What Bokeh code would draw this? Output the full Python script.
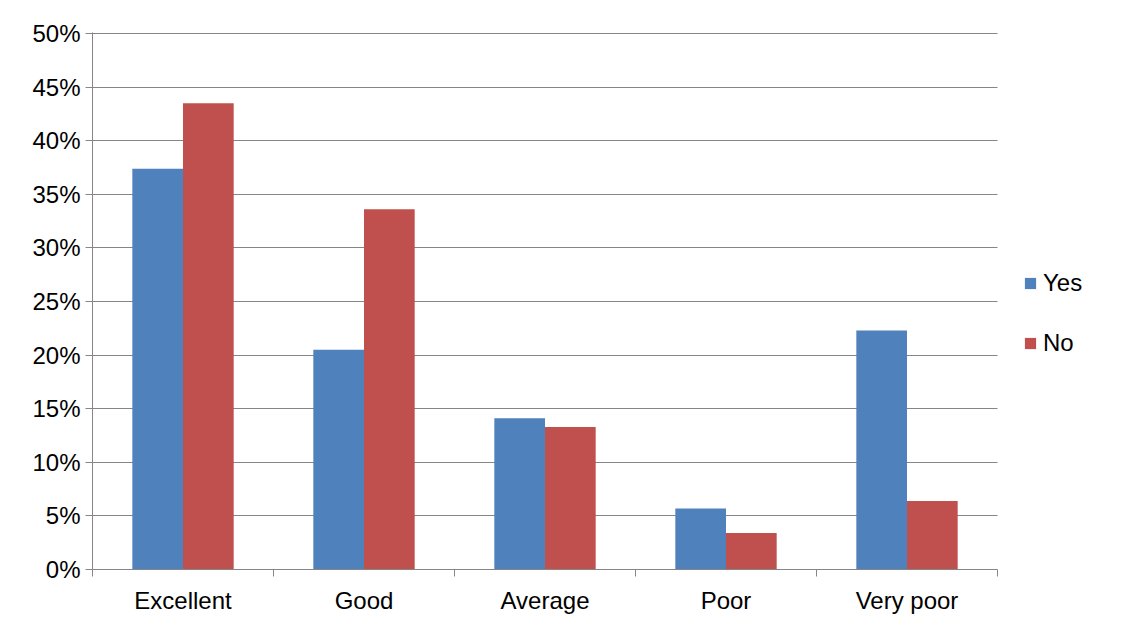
from bokeh.plotting import figure
from bokeh.models import FixedTicker, NumeralTickFormatter, Legend, LegendItem, Range1d
from bokeh.embed import file_html
from bokeh.resources import INLINE

categories = ["Excellent", "Good", "Average", "Poor", "Very poor"]
yes_vals = [0.374, 0.205, 0.141, 0.057, 0.223]
no_vals = [0.435, 0.336, 0.133, 0.034, 0.064]

xs = [i + 0.5 for i in range(len(categories))]

# frame runs past the last category so the legend can sit to the right of the bars
p = figure(frame_width=1008, frame_height=537, output_backend="svg", toolbar_location=None,
           x_range=Range1d(0, 5 * 1008 / 905), y_range=Range1d(0, 0.501),
           min_border_left=92, min_border_right=0, min_border_top=32, min_border_bottom=49)
p.outline_line_color = None

w = 0.28
r1 = p.vbar(x=[x - w / 2 for x in xs], top=yes_vals, width=w, color="#4F81BD", line_color=None)
r2 = p.vbar(x=[x + w / 2 for x in xs], top=no_vals, width=w, color="#C0504D", line_color=None)

p.yaxis.ticker = FixedTicker(ticks=[i * 0.05 for i in range(11)])
p.yaxis.formatter = NumeralTickFormatter(format="0%")
p.xaxis.ticker = FixedTicker(ticks=xs, minor_ticks=list(range(6)))
p.xaxis.major_label_overrides = {x: c for x, c in zip(xs, categories)}
p.xaxis.bounds = (0, 5)
p.xaxis.minor_tick_in = 0
p.xaxis.minor_tick_out = 7
p.xaxis.minor_tick_line_color = "#868686"
p.yaxis.major_tick_in = 0
p.yaxis.major_tick_out = 7
p.yaxis.minor_tick_line_color = None
for ax in (p.xaxis, p.yaxis):
    ax.axis_line_color = "#868686"
    ax.major_label_text_font = "Liberation Sans"
    ax.major_label_text_font_size = "24px"
    ax.major_label_text_color = "black"
p.yaxis.major_tick_line_color = "#868686"
p.xaxis.major_tick_line_color = None
p.xaxis.major_label_standoff = 10
p.yaxis.major_label_standoff = 5
p.xgrid.grid_line_color = None
p.ygrid.ticker = FixedTicker(ticks=[i * 0.05 for i in range(1, 11)])
p.ygrid.cross_bounds = (0, 5)
p.ygrid.grid_line_color = "#868686"

legend = Legend(items=[LegendItem(label="Yes", renderers=[r1]), LegendItem(label="No", renderers=[r2])],
                location=(931, 212), border_line_color=None, background_fill_alpha=0,
                label_text_font="Liberation Sans", label_text_font_size="24px",
                label_text_color="black",
                glyph_width=14, glyph_height=14, spacing=32, label_standoff=6,
                margin=0, padding=0)
p.add_layout(legend, "center")

open("out.html", "w").write(file_html(p, INLINE))
